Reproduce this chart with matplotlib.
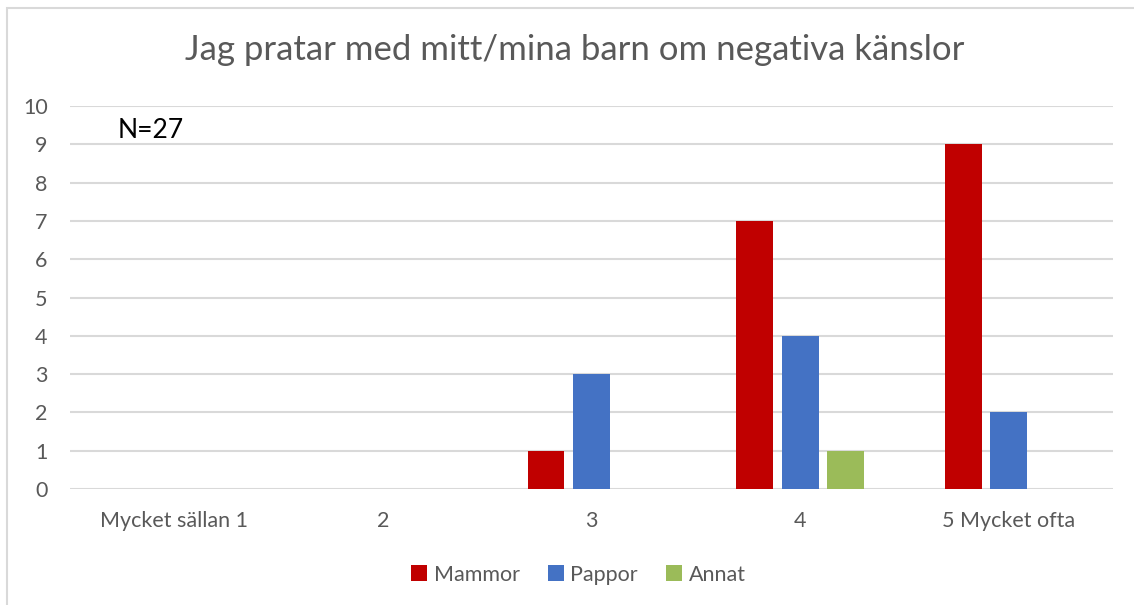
import numpy as np
import matplotlib
matplotlib.use("Agg")
import matplotlib.pyplot as plt
from matplotlib.patches import Rectangle

plt.rcParams["font.family"] = ["Lato", "DejaVu Sans"]

categories = ["Mycket sällan 1", "2", "3", "4", "5 Mycket ofta"]
mammor = [0, 0, 1, 7, 9]
pappor = [0, 0, 3, 4, 2]
annat = [0, 0, 0, 1, 0]

RED, BLUE, GREEN = "#C00000", "#4472C4", "#9BBB59"
GRAY_TXT = "#595959"
GRID = "#D9D9D9"

fig = plt.figure(figsize=(11.34, 6.05), dpi=100)
ax = fig.add_axes([0.0617, 0.1917, 0.9198, 0.6331])

x = np.arange(len(categories))
w = 0.177
off = 0.218
ax.bar(x - off, mammor, w, color=RED, label="Mammor")
ax.bar(x, pappor, w, color=BLUE, label="Pappor")
ax.bar(x + off, annat, w, color=GREEN, label="Annat")

ax.set_xlim(-0.5, len(categories) - 0.5)
ax.set_ylim(0, 10)
ax.set_yticks(range(0, 11))
ax.set_xticks(x)
ax.set_xticklabels(categories)
ax.yaxis.grid(True, color=GRID, lw=1.5)
ax.set_axisbelow(True)
for s in ax.spines.values():
    s.set_visible(False)
ax.tick_params(length=0, labelsize=15.5, colors=GRAY_TXT)
ax.tick_params(axis="x", pad=16)
ax.tick_params(axis="y", pad=16)

ax.text(0.046, 9.37, "N=27", transform=ax.get_yaxis_transform(),
        fontsize=19, color="black", va="center", ha="left")

fig.text(0.507, 0.917, "Jag pratar med mitt/mina barn om negativa känslor",
         fontsize=25, color=GRAY_TXT, ha="center", va="center")

leg = fig.legend(loc="center", bbox_to_anchor=(0.51, 0.05), ncol=3, frameon=False,
                 fontsize=15.5, handlelength=0.75, handleheight=0.75,
                 handletextpad=0.3, columnspacing=1.3)
for t in leg.get_texts():
    t.set_color(GRAY_TXT)

fig.patches.append(Rectangle((7 / 1134, -0.1), 1.2, 1.1 - 8 / 605,
                             transform=fig.transFigure, fill=False,
                             edgecolor="#D9D9D9", lw=1.5))

fig.savefig("out.png", dpi=100)
